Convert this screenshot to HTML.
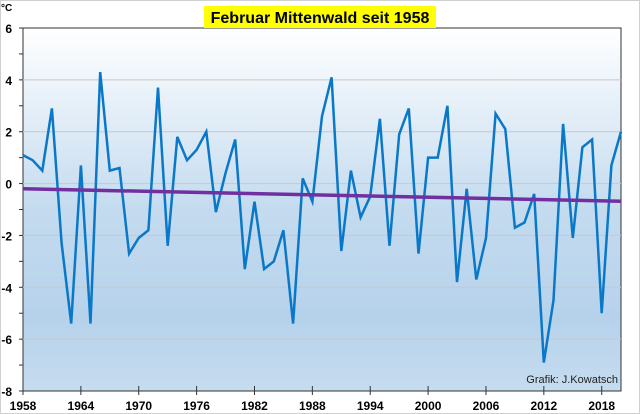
<!DOCTYPE html>
<html><head><meta charset="utf-8"><style>
body{margin:0;background:#fff;font-family:"Liberation Sans",sans-serif}
svg{display:block}
</style></head><body>
<svg id="c" width="640" height="414" xmlns="http://www.w3.org/2000/svg">
<defs><linearGradient id="g" x1="0" y1="0" x2="0" y2="1">
<stop offset="0" stop-color="#ffffff"/><stop offset="0.5" stop-color="#c4dbef"/><stop offset="0.8" stop-color="#b6d2eb"/><stop offset="1" stop-color="#c6dcef"/></linearGradient></defs>
<rect x="0.5" y="0.5" width="639" height="413" fill="#fff" stroke="#d0d0d0"/>
<rect x="23" y="28" width="598" height="363" fill="url(#g)" stroke="#333" stroke-width="1"/>
<rect x="204" y="6" width="232" height="22" fill="#ffff00"/>
<text x="320" y="23" text-anchor="middle" font-weight="bold" font-size="16">Februar Mittenwald seit 1958</text>
<text x="1" y="11" font-size="10" font-weight="bold">°C</text>
<text x="618" y="383" text-anchor="end" font-size="11" fill="#222">Grafik: J.Kowatsch</text>
<g id="grid"></g><g id="axes"></g><g id="marks"></g>
</svg>
<script>
const years=[];for(let y=1958;y<=2020;y++)years.push(y);
const temps=[1.1,0.9,0.5,2.9,-2.3,-5.4,0.7,-5.4,4.3,0.5,0.6,-2.7,-2.1,-1.8,3.7,-2.4,1.8,0.9,1.3,2.0,-1.1,0.4,1.7,-3.3,-0.7,-3.3,-3.0,-1.8,-5.4,0.2,-0.7,2.6,4.1,-2.6,0.5,-1.3,-0.5,2.5,-2.4,1.9,2.9,-2.7,1.0,1.0,3.0,-3.8,-0.2,-3.7,-2.1,2.7,2.1,-1.7,-1.5,-0.4,-6.9,-4.5,2.3,-2.1,1.4,1.7,-5.0,0.7,2.0];
const trend=[-0.2,-0.68];
const yTicks=[6,4,2,0,-2,-4,-6,-8];
const xTicks=[1958,1964,1970,1976,1982,1988,1994,2000,2006,2012,2018];
const X=v=>23+(v-1958)*(598/62);
const Y=v=>28+(6-v)*(363/14);
const NS="http://www.w3.org/2000/svg";
function mk(p,t,a){const e=document.createElementNS(NS,t);for(const k in a)e.setAttribute(k,a[k]);document.getElementById(p).appendChild(e);return e;}
yTicks.forEach(v=>{
 if(v>-8&&v<6){const l=mk('grid','line',{x1:23,x2:621,y1:Y(v),y2:Y(v),stroke:'#c8c8c8','stroke-width':1});
 
 }
 const t=mk('axes','text',{x:12,y:Y(v)+5,'text-anchor':'end','font-size':12,'font-weight':'bold'});t.textContent=v;
 
 
});
for(let v=-8;v<=6;v++){const l=mk('axes','line',{x1:19,x2:23,y1:Y(v),y2:Y(v),stroke:'#333'});
 
 }
xTicks.forEach(v=>{
 const l=mk('axes','line',{x1:X(v),x2:X(v),y1:386,y2:395,stroke:'#333'});
 
 
 const t=mk('axes','text',{x:X(v),y:410,'text-anchor':'middle','font-size':12,'font-weight':'bold'});t.textContent=v;
 
 
});
const pts=temps.map((v,i)=>X(years[i]).toFixed(1)+','+Y(v).toFixed(1)).join(' ');
const ln=mk('marks','polyline',{points:pts,fill:'none',stroke:'#0a78c8','stroke-width':2.5,'stroke-linejoin':'miter'});


const tr=mk('marks','line',{x1:X(1958),y1:Y(trend[0]),x2:X(2020),y2:Y(trend[1]),stroke:'#7030a0','stroke-width':3.5});


</script>
</body></html>
